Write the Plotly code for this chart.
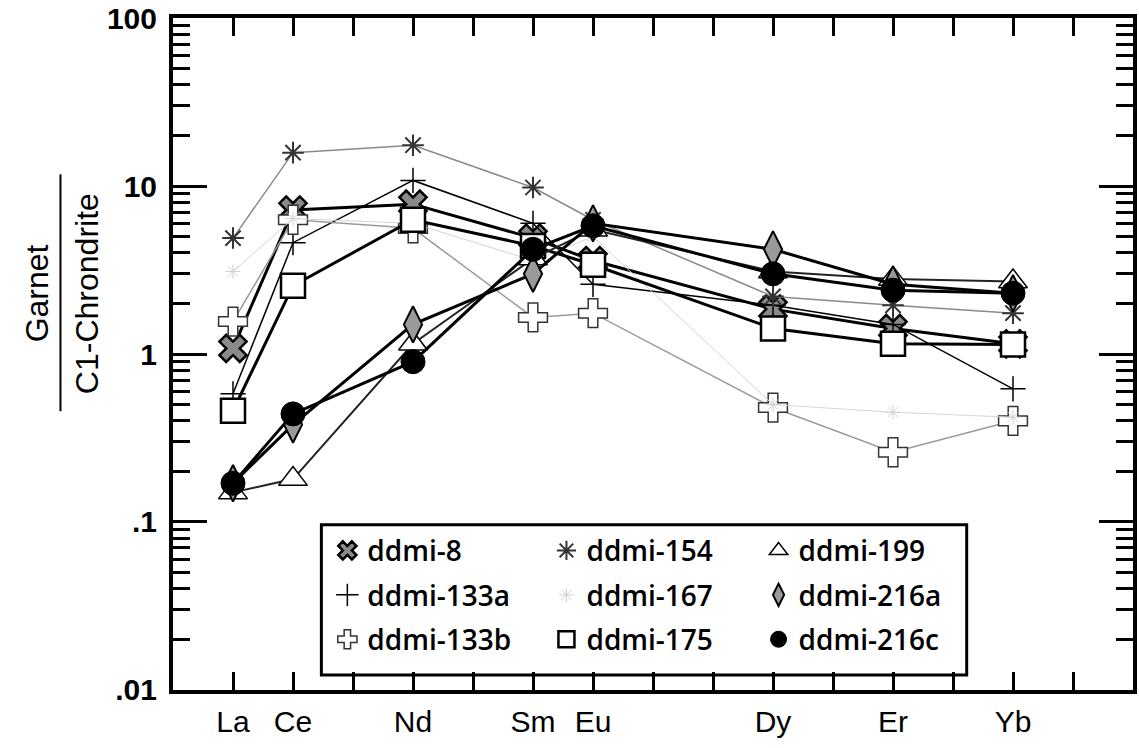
import plotly.graph_objects as go

# ---------------- data ----------------
elements = ["La", "Ce", "Pr", "Nd", "Pm", "Sm", "Eu", "Gd", "Tb", "Dy", "Ho", "Er", "Tm", "Yb", "Lu"]
labelled = ["La", "Ce", "Nd", "Sm", "Eu", "Dy", "Er", "Yb"]
measured = ["La", "Ce", "Nd", "Sm", "Eu", "Dy", "Er", "Yb"]

ddmi_8 = [1.08, 7.2, 7.8, 4.9, 3.6, 1.85, 1.42, 1.15]
ddmi_133a = [0.58, 4.6, 10.8, 6.0, 2.6, 1.95, 1.5, 0.62]
ddmi_133b = [1.56, 6.3, 5.6, 1.65, 1.75, 0.48, 0.26, 0.40]
ddmi_154 = [4.9, 15.8, 17.5, 9.8, 6.3, 2.2, 1.95, 1.75]
ddmi_167 = [3.1, 6.4, 6.0, 3.6, 5.0, 0.50, 0.45, 0.42]
ddmi_175 = [0.46, 2.55, 6.3, 4.4, 3.4, 1.42, 1.15, 1.14]
ddmi_199 = [0.15, 0.18, 1.15, 3.7, 5.5, 3.1, 2.8, 2.7]
ddmi_216a = [0.17, 0.38, 1.5, 3.0, 6.0, 4.2, 2.6, 2.3]
ddmi_216c = [0.17, 0.44, 0.9, 4.2, 5.8, 3.0, 2.4, 2.3]

y_major = [0.01, 0.1, 1, 10, 100]
y_major_text = [".01", ".1", "1", "10", "100"]

# ---------------- helpers ----------------
pos = {e: i + 1 for i, e in enumerate(elements)}
xs = [pos[e] for e in measured]

series = [
    # name, values, legend, symbol, msize, mcolor, mline color, mline width, line color, line width
    ("ddmi-8", ddmi_8, "legend", "x", 24, "#8a8a8a", "black", 2.5, "black", 3),
    ("ddmi-133a", ddmi_133a, "legend", "cross-thin", 18, "black", "black", 1.5, "black", 1.5),
    ("ddmi-133b", ddmi_133b, "legend", "cross", 24, "white", "#333333", 1.5, "#9a9a9a", 1.5),
    ("ddmi-154", ddmi_154, "legend2", "asterisk", 18, "#444444", "#333333", 2, "#8a8a8a", 1.5),
    ("ddmi-167", ddmi_167, "legend2", "asterisk", 12, "#cccccc", "#cfcfcf", 1, "#d4d4d4", 1),
    ("ddmi-175", ddmi_175, "legend2", "square", 24, "white", "black", 2.5, "black", 3),
    ("ddmi-199", ddmi_199, "legend3", "triangle-up", 25, "white", "black", 1.5, "#222222", 2),
    ("ddmi-216a", ddmi_216a, "legend3", "diamond-tall", 26, "#9a9a9a", "black", 2, "black", 3),
    ("ddmi-216c", ddmi_216c, "legend3", "circle", 24, "black", "black", 1, "black", 3),
]

fig = go.Figure()
for name, vals, leg, sym, ms, mc, mlc, mlw, lc, lw in series:
    mk = dict(symbol=sym, size=ms, color=mc, line=dict(color=mlc, width=mlw))
    fig.add_trace(go.Scatter(
        x=xs, y=vals, name=name, mode="lines+markers", showlegend=False,
        line=dict(color=lc, width=lw), marker=mk,
    ))
    # legend entry (marker only)
    fig.add_trace(go.Scatter(
        x=[None], y=[None], name=name, mode="markers",
        legend=leg, legendgroup=name, marker=mk,
    ))

W, H = 1139, 748
L, R, T, B = 173, 2, 15, 58
pw, ph = W - L - R, H - T - B


def px_x(p):
    return (p - L) / pw


def px_y(p):
    return (H - B - p) / ph


minor_vals = [m * 10 ** k for k in range(-2, 2) for m in range(2, 10)]

fig.update_layout(
    width=W, height=H,
    margin=dict(l=L, r=R, t=T, b=B),
    paper_bgcolor="white", plot_bgcolor="white",
    font=dict(family="Liberation Sans, Arial, sans-serif", color="black"),
    xaxis=dict(
        range=[0, 16],
        tickvals=list(range(1, 16)),
        ticktext=[e if e in labelled else "" for e in elements],
        ticks="inside", ticklen=18, tickwidth=3, tickcolor="black",
        showline=True, linewidth=4, linecolor="black", mirror="ticks",
        showgrid=False, zeroline=False,
        tickfont=dict(family="Liberation Sans Narrow, Liberation Sans, Arial", size=30),
        ticklabelstandoff=2,
    ),
    yaxis=dict(
        type="log", range=[-2.0004, 2.0004],
        tickvals=y_major, ticktext=y_major_text,
        ticks="inside", ticklen=34, tickwidth=3, tickcolor="black",
        showline=True, linewidth=4, linecolor="black", mirror="ticks",
        showgrid=False, zeroline=False,
        tickfont=dict(family="Liberation Sans, Arial", size=30, weight="bold"),
        ticklabelstandoff=6, ticklabeloverflow="allow",
        minor=dict(tickvals=minor_vals, ticks="inside", ticklen=17, tickwidth=2.5,
                   tickcolor="black", showgrid=False),
    ),
    showlegend=True,
)

leg_font = dict(family="Open Sans, Noto Sans, sans-serif", size=28, weight=600, color="black")
common_leg = dict(yanchor="top", xanchor="left", bgcolor="rgba(0,0,0,0)", borderwidth=0,
                  font=leg_font, tracegroupgap=5, itemsizing="trace")
fig.update_layout(
    legend=dict(x=px_x(328), y=px_y(525), **common_leg),
    legend2=dict(x=px_x(548), y=px_y(525), **common_leg),
    legend3=dict(x=px_x(761), y=px_y(525), **common_leg),
)

# legend frame
fig.add_shape(type="rect", xref="paper", yref="paper",
              x0=px_x(322), x1=px_x(970), y0=px_y(675), y1=px_y(524),
              line=dict(color="black", width=3), fillcolor="white", layer="below")

# y axis title as a fraction
fig.add_annotation(xref="paper", yref="paper", x=px_x(36), y=px_y(292),
                   xanchor="center", yanchor="middle",
                   text="Garnet", textangle=-90, showarrow=False,
                   font=dict(family="Liberation Sans, Arial", size=32))
fig.add_annotation(xref="paper", yref="paper", x=px_x(86), y=px_y(292),
                   xanchor="center", yanchor="middle",
                   text="C1-Chrondrite", textangle=-90, showarrow=False,
                   font=dict(family="Liberation Sans, Arial", size=32))
fig.add_shape(type="line", xref="paper", yref="paper",
              x0=px_x(60), x1=px_x(60), y0=px_y(172), y1=px_y(410),
              line=dict(color="black", width=2))

fig.write_html("out.html")
